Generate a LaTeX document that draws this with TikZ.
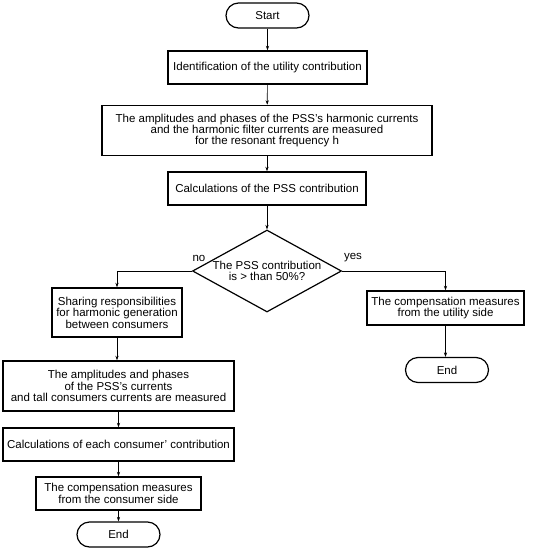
\documentclass[tikz,border=0pt]{standalone}
\usepackage{fontspec}
\setmainfont{Liberation Sans}
\usetikzlibrary{shapes.geometric,arrows.meta}
\begin{document}
\begin{tikzpicture}[x=1pt,y=-1pt,
  every node/.style={font=\fontsize{11.5}{11.4}\selectfont, align=center, inner sep=0pt},
  procbox/.style={draw, line width=1.5pt, rectangle},
  termbox/.style={draw, line width=1.2pt, rectangle, rounded corners=12.5pt, minimum width=83pt, minimum height=25pt},
  decbox/.style={draw, line width=1.2pt, diamond, aspect=1.8, minimum width=149pt, minimum height=82pt},
  conn/.style={line width=0.6pt, -{Stealth[length=4.5pt,width=3.2pt]}},
  lbl/.style={font=\fontsize{11.5}{11.4}\selectfont}
]
\useasboundingbox (0,0) rectangle (534,550);
\node[termbox] (start) at (267.5,15.5) {Start};
\node[procbox, minimum width=199pt, minimum height=33pt] (b1) at (267.5,67.5) {Identification of the utility contribution};
\node[procbox, minimum width=330pt, minimum height=50pt] (b2) at (267,130.5) {The amplitudes and phases of the PSS's harmonic currents\\and the harmonic filter currents are measured\\for the resonant frequency h};
\node[procbox, minimum width=198pt, minimum height=33pt] (b3) at (267,188.5) {Calculations of the PSS contribution};
\node[decbox] (d) at (267,271) {The PSS contribution\\is > than 50\%?};
\node[procbox, minimum width=130pt, minimum height=49pt] (s) at (117,312.5) {Sharing responsibilities\\for harmonic generation\\between consumers};
\node[procbox, minimum width=231pt, minimum height=50pt] (a) at (118.5,386) {The amplitudes and phases\\of the PSS's currents\\and tall consumers currents are measured};
\node[procbox, minimum width=231pt, minimum height=33pt] (c) at (118.5,444.5) {Calculations of each consumer' contribution};
\node[procbox, minimum width=165pt, minimum height=33pt] (cc) at (118.5,493.5) {The compensation measures\\from the consumer side};
\node[termbox] (e1) at (118.5,534.5) {End};
\node[procbox, minimum width=157pt, minimum height=34pt] (cu) at (445.5,308) {The compensation measures\\from the utility side};
\node[termbox] (e2) at (447,370) {End};
\node[lbl] (no) at (199,258.5) {no};
\node[lbl] (yes) at (353,257.5) {yes};
\draw[conn] (start) -- (b1);
\draw[conn] (b1) -- (b2);
\draw[conn] (b2) -- (b3);
\draw[conn] (b3) -- (d);
\draw[conn] (d.west) -| (s.north);
\draw[conn] (d.east) -| (cu.north);
\draw[conn] (s) -- (s.south |- a.north);
\draw[conn] (a) -- (c);
\draw[conn] (c) -- (cc);
\draw[conn] (cc) -- (e1);
\draw[conn] (cu.south) -- (cu.south |- e2.north);
\end{tikzpicture}
\end{document}
